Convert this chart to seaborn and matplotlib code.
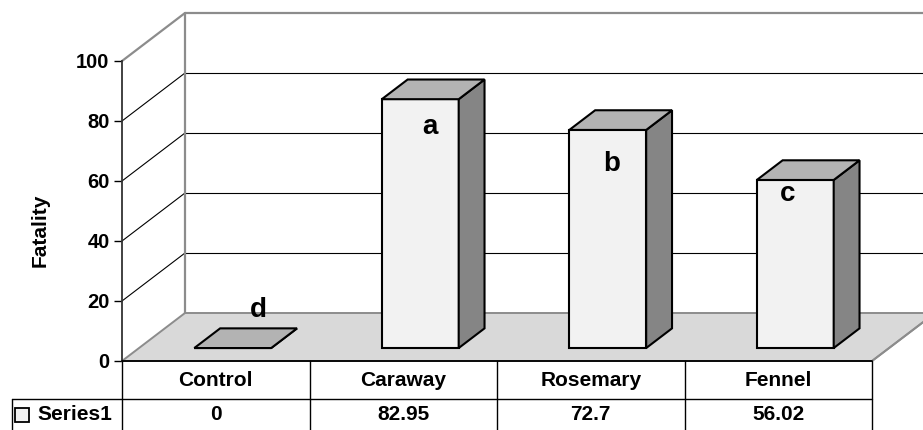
import matplotlib
matplotlib.use("Agg")
import matplotlib.pyplot as plt
from matplotlib.patches import Polygon, Rectangle
import seaborn as sns

# chart data
categories = ["Control", "Caraway", "Rosemary", "Fennel"]
fatality = [0, 82.95, 72.7, 56.02]
letters = ["d", "a", "b", "c"]
letter_dx = [0.225, 0.143, 0.113, 0.052]
letter_dy = [17, -5, -7, -0.3]
series_name = "Series1"
yticks = [0, 20, 40, 60, 80, 100]

sns.set_style("white")
plt.rcParams['font.family'] = ['Liberation Sans', 'DejaVu Sans']
plt.rcParams['font.weight'] = 'bold'
plt.rcParams['text.color'] = 'black'
plt.rcParams['axes.labelcolor'] = 'black'
plt.rcParams['ytick.color'] = 'black'

# colours
front_c, top_c, side_c = "#f2f2f2", "#b3b3b3", "#858585"
wall_c, floor_c = "#8c8c8c", "#d9d9d9"

# depth of the 3d box in data units
DX, DY = 0.336, 16.0
t0, t1 = 0.27, 0.68

fig = plt.figure(figsize=(9.23, 4.30), dpi=100)
ax = fig.add_axes([122 / 923, 69 / 430, 750 / 923, 300 / 430])

sns.barplot(x=categories, y=fatality, ax=ax, width=0.41, color=front_c,
            saturation=1, edgecolor="black", linewidth=1.5, zorder=4)
bars = list(ax.patches)

ax.set_xlim(-0.5, 3.5)
ax.set_ylim(0, 100)
ax.patch.set_visible(False)
for s in ["top", "right", "bottom"]:
    ax.spines[s].set_visible(False)
ax.spines["left"].set_color("#333333")
ax.spines["left"].set_linewidth(1.3)
ax.set_xticks([])
ax.set_xlabel("")
ax.set_yticks(yticks)
ax.tick_params(axis="y", direction="out", length=6, width=1, labelsize=14.5, pad=3, left=True,
               colors="black")
ax.set_ylabel("Fatality", fontsize=15, fontweight="bold")
ax.yaxis.set_label_coords(-0.097, 0.437)

x0w, x1w = -0.5 + DX, 3.95
# back wall gridlines and left wall diagonals
for v in yticks[1:]:
    top = v == 100
    ax.plot([x0w, x1w], [v + DY, v + DY], color=wall_c if top else "black",
            lw=1.6 if top else 0.8, clip_on=False, zorder=0)
    ax.plot([-0.5, x0w], [v, v + DY], color=wall_c if top else "black",
            lw=1.6 if top else 0.8, clip_on=False, zorder=0)
ax.plot([x0w, x0w], [DY, 100 + DY], color=wall_c, lw=1.6, clip_on=False, zorder=0)

# floor
floor = Polygon([(-0.5, 0), (3.5, 0), (3.5 + DX, DY), (x0w, DY)], closed=True,
                facecolor=floor_c, edgecolor=wall_c, lw=1.4, clip_on=False, zorder=1)
ax.add_patch(floor)

# 3d bars
ddx, ddy = (t1 - t0) * DX, (t1 - t0) * DY
for p in bars:
    p.set_x(p.get_x() + t0 * DX)
    p.set_y(t0 * DY)
    p.set_clip_on(False)
    x, y, w, h = p.get_x(), p.get_y(), p.get_width(), p.get_height()
    top = Polygon([(x, y + h), (x + w, y + h), (x + w + ddx, y + h + ddy), (x + ddx, y + h + ddy)],
                  closed=True, facecolor=top_c, edgecolor="black", lw=1.5, clip_on=False, zorder=4)
    side = Polygon([(x + w, y), (x + w, y + h), (x + w + ddx, y + h + ddy), (x + w + ddx, y + ddy)],
                   closed=True, facecolor=side_c, edgecolor="black", lw=1.5, clip_on=False, zorder=4)
    ax.add_patch(side)
    ax.add_patch(top)

# significance letters
for i, (lab, v) in enumerate(zip(letters, fatality)):
    ax.text(i + letter_dx[i], v + letter_dy[i], lab, ha="center", va="center",
            fontsize=20, fontweight="bold", zorder=6)

# data table below the plot
row1, row2 = -12.67, -24
left = -1.087
ax.plot([-0.5, 3.5], [0, 0], color="black", lw=1.3, clip_on=False, zorder=5)
ax.plot([left, 3.5], [row1, row1], color="black", lw=1, clip_on=False, zorder=5)
for xb in [-0.5, 0.5, 1.5, 2.5, 3.5]:
    ax.plot([xb, xb], [0, row2], color="black", lw=1, clip_on=False, zorder=5)
ax.plot([left, left], [row1, row2], color="black", lw=1, clip_on=False, zorder=5)
ax.plot([3.5, 3.5 + 0.27], [0, 12.8], color=wall_c, lw=1.4, clip_on=False, zorder=1)

for i, (c, v) in enumerate(zip(categories, fatality)):
    ax.text(i, row1 / 2, c, ha="center", va="center", fontsize=15, fontweight="bold", clip_on=False)
    ax.text(i, -17.8, f"{v:g}", ha="center", va="center", fontsize=15, fontweight="bold", clip_on=False)

ax.add_patch(Rectangle((-1.072, -20.3), 0.0747, 4.67, facecolor=front_c, edgecolor="black",
                       lw=1.3, clip_on=False, zorder=5))
ax.text(-0.953, -17.8, series_name, ha="left", va="center", fontsize=15, fontweight="bold", clip_on=False)

plt.savefig("out.png", dpi=100)
plt.close()
